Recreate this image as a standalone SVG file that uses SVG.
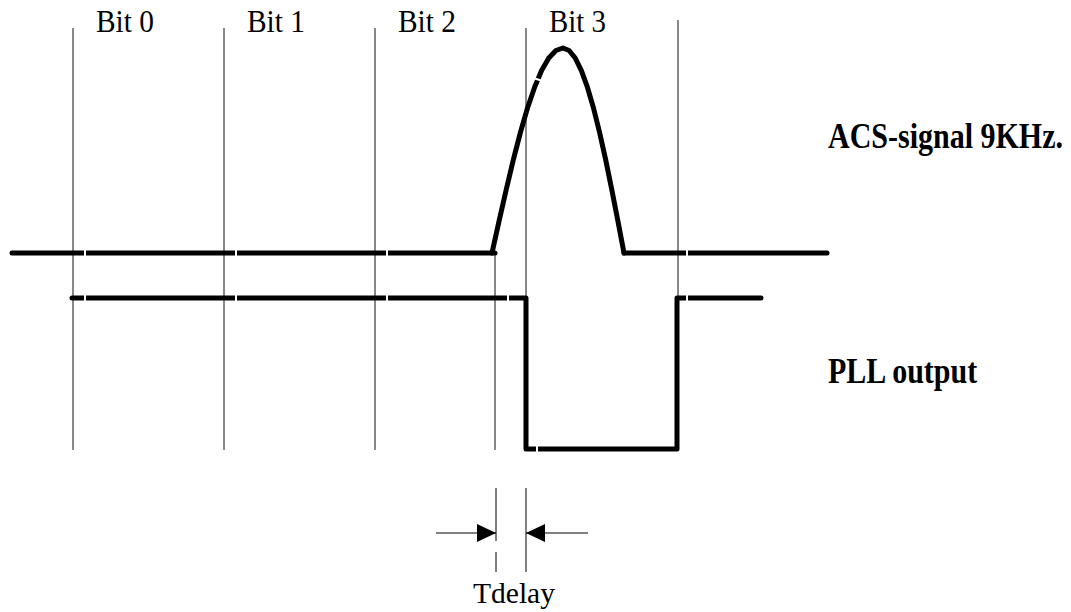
<svg xmlns="http://www.w3.org/2000/svg" width="1071" height="612" viewBox="0 0 1071 612">
<style>
.grid{stroke:#111;stroke-width:1;fill:none}
.sig{stroke:#000;stroke-width:5;fill:none;stroke-linecap:round;stroke-linejoin:round}
.gap{stroke:#fff;stroke-width:2}
.lbl{font-family:"Liberation Serif","Times New Roman",serif;font-size:31px;fill:#000}
.big{font-family:"Liberation Serif","Times New Roman",serif;font-weight:bold;font-size:30px;fill:#000}
.dim{stroke:#000;stroke-width:1;fill:none}
</style>
<defs>
<marker id="ah" viewBox="0 0 19 18" refX="19" refY="9" markerWidth="19" markerHeight="18" markerUnits="userSpaceOnUse" orient="auto">
<path d="M0,0 L19,9 L0,18 Z" fill="#000"/>
</marker>
</defs>
<rect width="1071" height="612" fill="#fff"/>
<g id="bit-grid">
<line class="grid" x1="73" y1="28" x2="73" y2="450"/>
<line class="grid" x1="224" y1="28" x2="224" y2="450"/>
<line class="grid" x1="375" y1="28" x2="375" y2="450"/>
<line class="grid" x1="526" y1="28" x2="526" y2="450"/>
<line class="grid" x1="678" y1="20" x2="678" y2="450"/>
<line class="grid" x1="495" y1="253" x2="495" y2="450"/>
</g>
<g id="bit-labels">
<text class="lbl" x="96" y="32" textLength="58" lengthAdjust="spacingAndGlyphs">Bit 0</text>
<text class="lbl" x="247" y="32" textLength="58" lengthAdjust="spacingAndGlyphs">Bit 1</text>
<text class="lbl" x="398" y="32" textLength="58" lengthAdjust="spacingAndGlyphs">Bit 2</text>
<text class="lbl" x="549" y="32" textLength="57" lengthAdjust="spacingAndGlyphs">Bit 3</text>
</g>
<g id="acs-signal">
<line class="sig" x1="12" y1="253" x2="495" y2="253"/>
<polyline class="sig" points="492,253 499.1,220.9 506.2,189.7 513.3,159.9 520.4,132.5 527.5,108 534.6,87.2 541.7,70.3 548.8,58 555.9,50.5 563,48 569.1,50.5 575.2,58 581.3,70.3 587.4,87.2 593.5,108 599.6,132.5 605.7,159.9 611.8,189.7 617.9,220.9 624,253"/>
<line class="sig" x1="624" y1="253" x2="827" y2="253"/>
<text class="big" transform="translate(828,148) scale(1,1.22)" x="0" y="0">ACS-signal 9KHz.</text>
</g>
<g id="pll-output">
<polyline class="sig" points="72,298 526,298 526,449 677,449 677,298 761,298"/>
<text class="big" transform="translate(828,383) scale(1,1.22)" x="0" y="0">PLL output</text>
</g>
<g id="gaps">
<line class="gap" x1="85" y1="248" x2="85" y2="258"/>
<line class="gap" x1="236" y1="248" x2="236" y2="258"/>
<line class="gap" x1="387" y1="248" x2="387" y2="258"/>
<line class="gap" x1="687" y1="248" x2="687" y2="258"/>
<line class="gap" x1="85" y1="293" x2="85" y2="303"/>
<line class="gap" x1="236" y1="293" x2="236" y2="303"/>
<line class="gap" x1="387" y1="293" x2="387" y2="303"/>
<line class="gap" x1="508" y1="293" x2="508" y2="303"/>
<line class="gap" x1="687" y1="293" x2="687" y2="303"/>
<line class="gap" x1="537" y1="444" x2="537" y2="454"/>
<line class="gap" x1="533" y1="78" x2="543" y2="81"/>
</g>
<g id="connectors">
<line class="dim" x1="496" y1="488" x2="496" y2="541"/>
<line class="dim" x1="496" y1="552" x2="496" y2="572"/>
<line class="dim" x1="526" y1="488" x2="526" y2="572"/>
<line class="dim" x1="436" y1="533" x2="496" y2="533" marker-end="url(#ah)"/>
<line class="dim" x1="588" y1="533" x2="526" y2="533" marker-end="url(#ah)"/>
</g>
<g id="tdelay">
<text class="lbl" x="473" y="603" style="font-size:30px" textLength="82" lengthAdjust="spacingAndGlyphs">Tdelay</text>
</g>
</svg>
